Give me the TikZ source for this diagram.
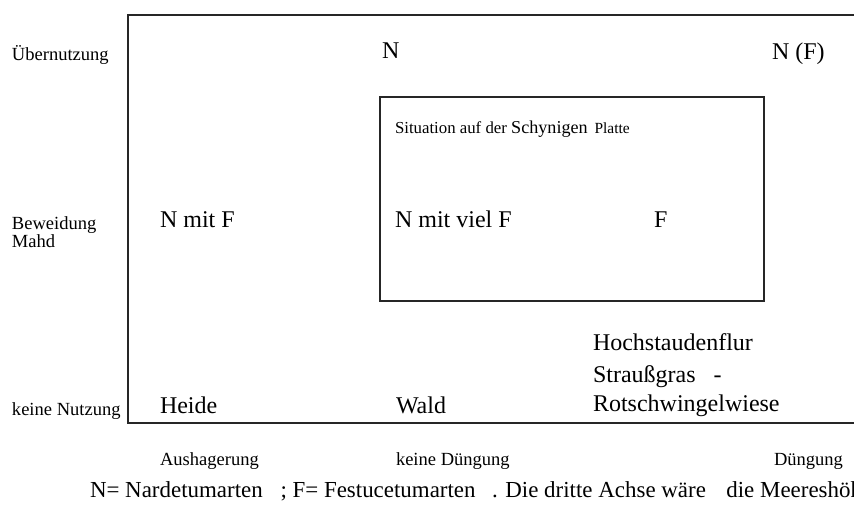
\documentclass[tikz,border=0pt]{standalone}
\usepackage{fontspec}
\setmainfont{Liberation Serif}
\begin{document}
\begin{tikzpicture}[x=0.75pt,y=-0.75pt,
  frameline/.style={line width=1pt,draw=black!85},
  lbl/.style={anchor=base west,inner sep=0pt,outer sep=0pt},
  axis/.style={lbl,font=\fontsize{13.9}{16.5}\selectfont},
  big/.style={lbl,font=\fontsize{18}{21}\selectfont},
  note/.style={lbl,font=\fontsize{17.2}{20}\selectfont}]
\useasboundingbox (0,0) rectangle (854,507);
\clip (0,0) rectangle (854,507);

% frame of the diagram (open to the right)
\coordinate (tr) at (860,15);
\coordinate (tl) at (128,15);
\coordinate (bl) at (128,423);
\coordinate (br) at (860,423);
\draw[frameline] (tr) -- (tl) -- (bl) -- (br);

% box for the Schynige Platte
\draw[frameline] (380,97) rectangle (764,301);

% usage axis
\node[axis] (uebernutzung) at (12,60) {Übernutzung};
\node[axis] (beweidung) at (12,229) {Beweidung};
\node[axis] (mahd) at (12,247) {Mahd};
\node[axis] (keinenutzung) at (12,415) {keine Nutzung};

% fertilisation axis
\node[axis] (aushagerung) at (160,465) {Aushagerung};
\node[axis] (keineduengung) at (396,465) {keine Düngung};
\node[axis] (duengung) at (774,465) {Düngung};

% cells
\node[big] (n) at (382,58) {N};
\node[big] (nf) at (772,59) {N (F)};
\node[lbl] (situation) at (395,133)
  {\fontsize{12.6}{15}\selectfont Situation auf der
   {\fontsize{13.6}{15}\selectfont Schynigen}
   {\fontsize{11.6}{15}\selectfont\hspace{2pt}Platte}};
\node[big] (nmitf) at (160,227) {N mit F};
\node[big] (nmitvielf) at (395,227) {N mit viel F};
\node[big] (f) at (654,227) {F};
\node[big] (hochstauden) at (593,350) {Hochstaudenflur};
\node[big] (strauss) at (593,382) {Straußgras\hspace{9pt} -};
\node[big] (rotschwingel) at (593,411) {Rotschwingelwiese};
\node[big] (heide) at (160,413) {Heide};
\node[big] (wald) at (396,413) {Wald};

% legend line
\node[note] (legende) at (90,497)
  {N= Nardetumarten\hspace{9pt} ; F= Festucetumarten\hspace{8pt} . Die dritte Achse wäre\hspace{11pt} die Meereshöhe};
\end{tikzpicture}
\end{document}
